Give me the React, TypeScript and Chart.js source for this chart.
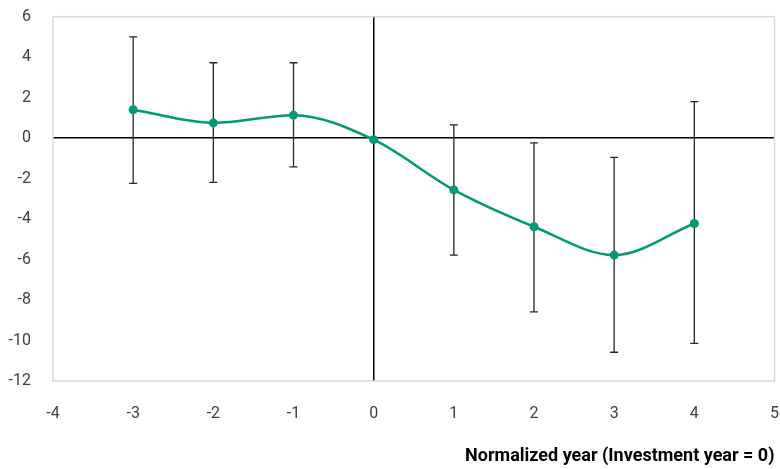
import React, { useEffect, useRef } from "react";
import { Chart, registerables } from "chart.js";

Chart.register(...registerables);

const years = [-3, -2, -1, 0, 1, 2, 3, 4];
const estimates = [1.4, 0.75, 1.13, -0.08, -2.56, -4.38, -5.78, -4.22];
const upper = [5.0, 3.72, 3.72, null, 0.65, -0.24, -0.95, 1.8];
const lower = [-2.24, -2.19, -1.42, null, -5.78, -8.59, -10.58, -10.14];
const xTitle = "Normalized year (Investment year = 0)";

const FONT = "'Roboto', 'Liberation Sans', sans-serif";

const frame = {
  id: "frame",
  beforeDatasetsDraw(chart: any) {
    const { ctx, chartArea: a } = chart;
    ctx.save();
    ctx.strokeStyle = "#d9d9d9";
    ctx.lineWidth = 1.5;
    ctx.strokeRect(a.left, a.top, a.right - a.left, a.bottom - a.top);
    ctx.restore();
  },
};

const errorBars = {
  id: "errorBars",
  beforeDatasetsDraw(chart: any) {
    const { ctx, scales } = chart;
    const xs = scales.x;
    const ys = scales.y;
    ctx.save();
    ctx.strokeStyle = "#262626";
    ctx.lineWidth = 1.3;
    years.forEach((yr, i) => {
      const hi = upper[i];
      const lo = lower[i];
      if (hi == null || lo == null) return;
      const px = xs.getPixelForValue(yr);
      const pt = ys.getPixelForValue(hi);
      const pb = ys.getPixelForValue(lo);
      ctx.beginPath();
      ctx.moveTo(px, pt);
      ctx.lineTo(px, pb);
      ctx.moveTo(px - 4, pt);
      ctx.lineTo(px + 4, pt);
      ctx.moveTo(px - 4, pb);
      ctx.lineTo(px + 4, pb);
      ctx.stroke();
    });
    ctx.restore();
  },
};

export default function App() {
  const ref = useRef<HTMLCanvasElement>(null);
  useEffect(() => {
    if (!ref.current) return;
    const chart = new Chart(ref.current, {
      type: "line",
      data: {
        datasets: [
          {
            data: years.map((x, i) => ({ x, y: estimates[i] })),
            borderColor: "#009a74",
            backgroundColor: "#009a74",
            borderWidth: 2.5,
            pointRadius: 4.5,
            pointBorderWidth: 0,
            cubicInterpolationMode: "monotone",
            tension: 0.4,
          },
        ],
      },
      options: {
        responsive: false,
        animation: false,
        layout: { padding: { top: 2, right: 0, left: 0, bottom: 2 } },
        plugins: { legend: { display: false }, tooltip: { enabled: false } },
        scales: {
          x: {
            type: "linear",
            min: -4,
            max: 5,
            ticks: {
              stepSize: 1,
              padding: 23,
              color: "#404040",
              font: { family: FONT, size: 16 },
            },
            grid: {
              drawTicks: false,
              color: (c: any) => (c.tick && c.tick.value === 0 ? "#000000" : "rgba(0,0,0,0)"),
              lineWidth: 1.5,
            },
            border: { display: false },
            title: {
              display: true,
              text: xTitle,
              align: "end",
              color: "#000000",
              font: { family: FONT, size: 18, weight: "bold" },
              padding: { top: 19, bottom: 0 },
            },
            afterFit: (s: any) => {
              s.height = 86;
            },
          },
          y: {
            min: -12,
            max: 6,
            ticks: {
              stepSize: 2,
              padding: 22,
              color: "#404040",
              font: { family: FONT, size: 16 },
            },
            grid: {
              drawTicks: false,
              color: (c: any) => (c.tick && c.tick.value === 0 ? "#000000" : "rgba(0,0,0,0)"),
              lineWidth: 1.5,
            },
            border: { display: false },
            afterFit: (s: any) => {
              s.width = 53;
            },
          },
        },
      },
      plugins: [frame, errorBars],
    } as any);
    return () => chart.destroy();
  }, []);
  return (
    <div
      style={{
        position: "absolute",
        left: 0,
        top: 0,
        width: 780,
        height: 469,
        overflow: "hidden",
        background: "#fff",
      }}
    >
      <canvas
        ref={ref}
        width={802}
        height={484}
        style={{ position: "absolute", left: 0, top: -15 }}
      />
    </div>
  );
}
